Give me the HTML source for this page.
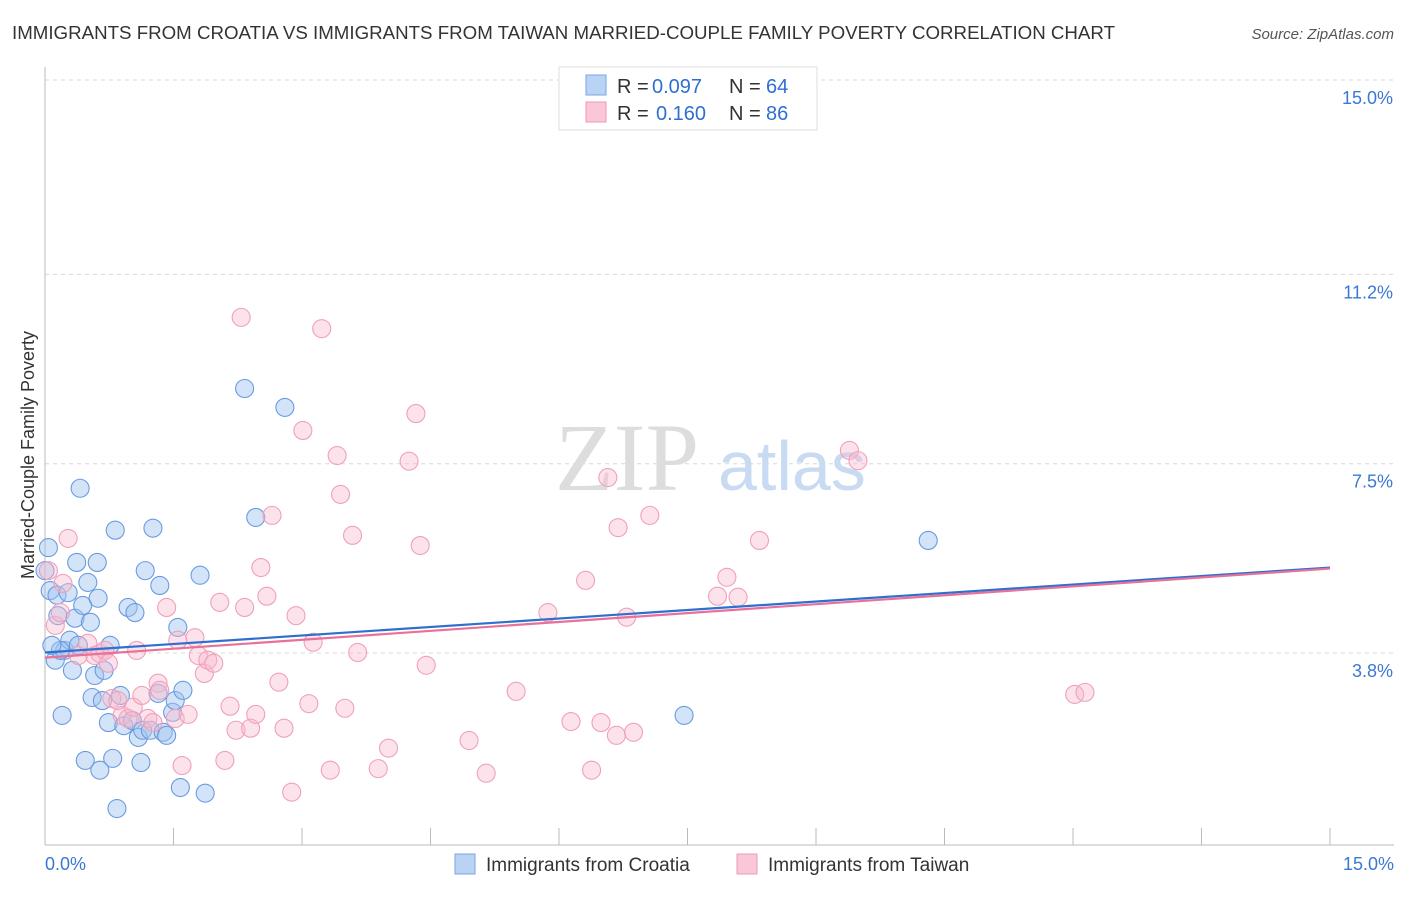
<!DOCTYPE html>
<html><head><meta charset="utf-8"><style>
body{margin:0;background:#fff;font-family:"Liberation Sans",sans-serif;}
</style></head><body>
<svg id="c" width="1406" height="892" xmlns="http://www.w3.org/2000/svg" style="font-family:'Liberation Sans',sans-serif">
<text x="12" y="39" font-size="18" fill="#333" textLength="1103" lengthAdjust="spacingAndGlyphs">IMMIGRANTS FROM CROATIA VS IMMIGRANTS FROM TAIWAN MARRIED-COUPLE FAMILY POVERTY CORRELATION CHART</text>
<text x="1394" y="39" font-size="15" fill="#555" font-style="italic" text-anchor="end">Source: ZipAtlas.com</text>
<g id="grid"></g>
<text x="555" y="490" font-size="96" fill="#ddd" font-family="Liberation Serif">ZIP</text>
<text x="718" y="490" font-size="70" fill="#c9dbf2">atlas</text>
<g id="pts"></g>
<g id="trend"></g>
<text transform="translate(34,455) rotate(-90)" font-size="18" fill="#333" text-anchor="middle">Married-Couple Family Poverty</text>
<g>
<rect x="559" y="67" width="258" height="63" fill="#fff" stroke="#ddd"/>
<rect x="586" y="75" width="20" height="20" fill="#b9d3f5" stroke="#7aa6e4"/>
<text x="617" y="93" font-size="20" fill="#333">R =</text>
<text x="652" y="93" font-size="20" fill="#2f6fd1">0.097</text>
<text x="729" y="93" font-size="20" fill="#333">N =</text>
<text x="766" y="93" font-size="20" fill="#2f6fd1">64</text>
<rect x="586" y="102" width="20" height="20" fill="#f9c7d6" stroke="#ef9ab5"/>
<text x="617" y="120" font-size="20" fill="#333">R =</text>
<text x="656" y="120" font-size="20" fill="#2f6fd1">0.160</text>
<text x="729" y="120" font-size="20" fill="#333">N =</text>
<text x="766" y="120" font-size="20" fill="#2f6fd1">86</text>
</g>
<g>
<rect x="455" y="854" width="20" height="20" fill="#b9d3f5" stroke="#7aa6e4"/>
<text x="486" y="871" font-size="19" fill="#333">Immigrants from Croatia</text>
<rect x="737" y="854" width="20" height="20" fill="#f9c7d6" stroke="#ef9ab5"/>
<text x="768" y="871" font-size="19" fill="#333">Immigrants from Taiwan</text>
</g>
</svg>
<script>
const yTicks=[15.0,11.2,7.5,3.8];
const yTickLabels=["15.0%","11.2%","7.5%","3.8%"];
const xTickCount=10;
const xLabels=["0.0%","15.0%"];
const croatiaX=[0.04,0.06,0.12,0.15,0.14,0.20,0.23,0.27,0.29,0.32,0.35,0.37,0.41,0.44,0.47,0.50,0.53,0.55,0.58,0.61,0.62,0.64,0.67,0.69,0.74,0.76,0.79,0.82,0.84,0.88,0.92,0.97,1.02,1.05,1.09,1.12,1.14,1.17,1.23,1.26,1.32,1.34,1.38,1.42,1.49,1.52,1.55,1.58,1.61,1.81,1.87,2.33,2.46,2.80,7.46,10.31,0.18,0.08,0.39,0.0];
const croatiaY=[5.86,5.02,3.66,4.53,4.93,2.58,3.85,4.98,4.05,3.46,4.48,5.57,7.02,4.73,1.70,5.18,4.40,2.93,3.36,5.57,4.87,1.51,2.87,3.46,2.44,3.95,1.74,6.20,0.76,2.97,2.38,4.69,2.48,4.59,2.15,1.66,2.29,5.41,2.29,6.24,3.01,5.12,2.25,2.19,2.64,2.87,4.30,1.17,3.07,5.32,1.06,8.97,6.45,8.60,2.58,6.00,3.85,3.95,3.95,5.41];
const taiwanX=[0.04,0.12,0.18,0.21,0.27,0.39,0.50,0.58,0.64,0.70,0.74,0.78,0.85,0.90,0.97,1.03,1.07,1.13,1.20,1.26,1.32,1.34,1.42,1.52,1.55,1.60,1.67,1.75,1.79,1.86,1.90,1.97,2.04,2.10,2.16,2.23,2.29,2.33,2.40,2.46,2.52,2.59,2.65,2.73,2.79,2.88,2.93,3.01,3.08,3.13,3.23,3.33,3.41,3.45,3.50,3.59,3.65,3.89,4.01,4.25,4.33,4.38,4.45,4.95,5.15,5.50,5.87,6.14,6.31,6.38,6.49,6.57,6.67,6.69,6.79,6.87,7.06,7.85,7.96,8.09,8.34,9.39,9.49,12.02,12.14];
const taiwanY=[5.41,4.34,4.59,5.16,6.04,3.75,3.99,3.75,3.79,3.85,3.60,2.91,2.87,2.58,2.52,2.74,3.85,2.97,2.52,2.44,3.21,3.07,4.69,2.52,4.05,1.60,2.60,4.10,3.75,3.40,3.66,3.60,4.79,1.70,2.76,2.29,10.36,4.69,2.33,2.60,5.47,4.91,6.49,3.23,2.33,1.08,4.53,8.15,2.81,4.01,10.14,1.51,7.66,6.90,2.72,6.10,3.81,1.54,1.94,7.55,8.48,5.90,3.56,2.09,1.45,3.05,4.59,2.46,5.22,1.51,2.44,7.23,2.19,6.25,4.50,2.25,6.49,4.91,5.28,4.89,6.00,7.76,7.56,2.99,3.03];
const croatiaTrend=[3.81,5.47];
const taiwanTrend=[3.71,5.45];
const NS="http://www.w3.org/2000/svg";
const X0=45,X1=1330,Y15=80,PPU=51.16;
function sx(v){return X0+(X1-X0)*v/15;}
function sy(v){return Y15+(15-v)*PPU;}
function mk(t,a,p){const e=document.createElementNS(NS,t);for(const k in a)e.setAttribute(k,a[k]);p.appendChild(e);return e;}
const g=document.getElementById('grid');
yTicks.forEach((v,i)=>{
 const l=mk('line',{x1:X0,x2:1394,y1:sy(v),y2:sy(v),stroke:'#d8d8d8','stroke-dasharray':'4,4'},g);
 
 
 const t=mk('text',{x:1393,y:sy(v)+24,'font-size':18,fill:'#3a78d4','text-anchor':'end'},g);
 t.textContent=yTickLabels[i];
 
 
});
const ax=mk('line',{x1:X0,x2:1394,y1:845,y2:845,stroke:'#bbb'},g);


const ay=mk('line',{x1:X0,x2:X0,y1:67,y2:845,stroke:'#bbb'},g);


for(let i=0;i<=xTickCount;i++){
 const tk=mk('line',{x1:sx(i*1.5),x2:sx(i*1.5),y1:828,y2:845,stroke:'#bbb'},g);
 
 
}
[[X0,'start',0],[1394,'end',1]].forEach(([x,a,i])=>{
 const t=mk('text',{x:x,y:870,'font-size':18,fill:'#3a78d4','text-anchor':a},g);
 t.textContent=xLabels[i];
 
 
});
const p=document.getElementById('pts');
croatiaX.forEach((x,i)=>{
 const c=mk('circle',{cx:sx(x),cy:sy(croatiaY[i]),r:9,fill:'rgba(160,196,240,0.45)',stroke:'#6a9be0','stroke-width':1.1},p);
 
 
});
taiwanX.forEach((x,i)=>{
 const c=mk('circle',{cx:sx(x),cy:sy(taiwanY[i]),r:9,fill:'rgba(248,184,204,0.4)',stroke:'#f0a0ba','stroke-width':1.1},p);
 
 
});
const tr=document.getElementById('trend');
const l1=mk('line',{x1:sx(0),y1:sy(croatiaTrend[0]),x2:sx(15),y2:sy(croatiaTrend[1]),stroke:'#2f6fd1','stroke-width':2.2},tr);


const l2=mk('line',{x1:sx(0),y1:sy(taiwanTrend[0]),x2:sx(15),y2:sy(taiwanTrend[1]),stroke:'#e8719a','stroke-width':2.2},tr);


</script>
</body></html>
